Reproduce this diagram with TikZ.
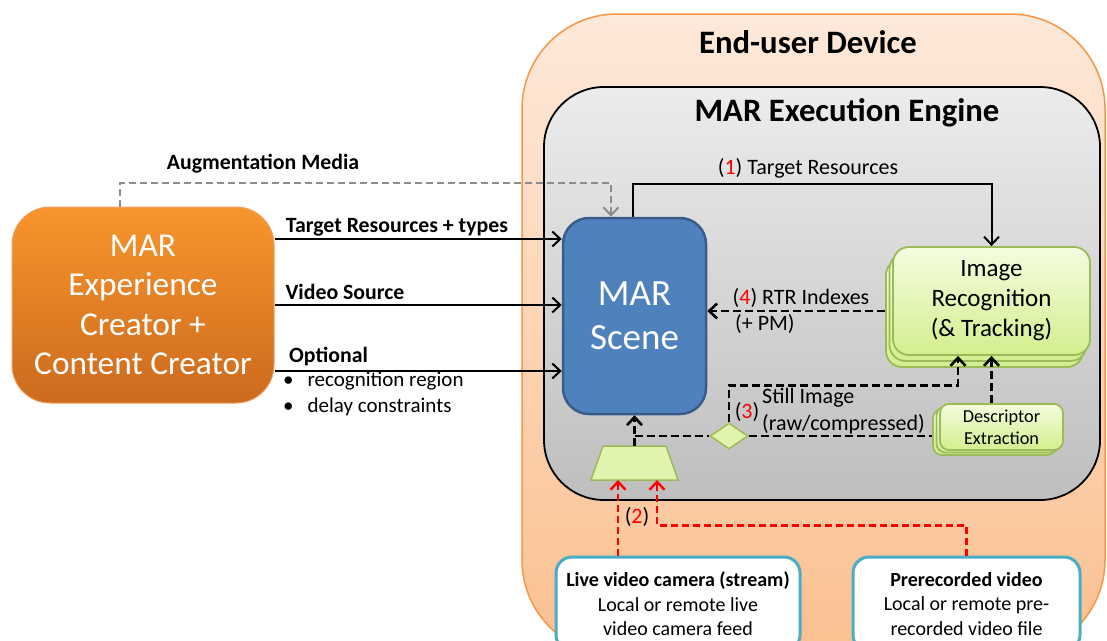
\documentclass[tikz,border=0pt]{standalone}
\usepackage{fontspec}
\setmainfont{Carlito}
\usetikzlibrary{arrows.meta,shapes.geometric,calc}
\definecolor{devborder}{HTML}{F79646}
\definecolor{devtop}{HTML}{FDE9DA}
\definecolor{devbot}{HTML}{FAC090}
\definecolor{engtop}{HTML}{ECECEC}
\definecolor{engbot}{HTML}{BEBEBE}
\definecolor{crtop}{HTML}{F8952C}
\definecolor{crbot}{HTML}{CC6A1E}
\definecolor{crborder}{HTML}{F0A060}
\definecolor{scfill}{HTML}{4F81BD}
\definecolor{scborder}{HTML}{385D8A}
\definecolor{grtop}{HTML}{F4FCDF}
\definecolor{grbot}{HTML}{D3EF8E}
\definecolor{grborder}{HTML}{9BBB59}
\definecolor{srcborder}{HTML}{4BACC6}
\definecolor{auggray}{HTML}{8C8C8C}
\newcommand\fsz[2]{\fontsize{#1}{#2}\selectfont}
\tikzset{
  lbl/.style={font=\fsz{22}{25}, inner sep=0pt},
  blbl/.style={font=\fsz{21.8}{25}\bfseries, inner sep=0pt},
  tip/.style={-{Straight Barb[length=8pt,width=15pt]}},
  arr/.style={line width=2pt, tip},
  dashln/.style={line width=2.6pt, dash pattern=on 8pt off 4pt},
  dasharr/.style={dashln, tip},
  redarr/.style={line width=2.4pt, dash pattern=on 7pt off 4pt, red, tip},
  augarr/.style={line width=2pt, dash pattern=on 7pt off 4pt, auggray, tip},
  creatorbox/.style={rounded corners=38pt, top color=crtop, bottom color=crbot, draw=crborder, line width=1pt,
    minimum width=262pt, minimum height=196pt, text=white, align=center, font=\fsz{33.4}{39.5}},
  scenebox/.style={rounded corners=26pt, fill=scfill, draw=scborder, line width=2.5pt,
    minimum width=143pt, minimum height=196pt, text=white, align=center, font=\fsz{37}{44}},
  irbox/.style={rounded corners=16pt, top color=grtop, bottom color=grbot, draw=grborder, line width=1.8pt,
    minimum width=197pt, minimum height=108pt, align=center, font=\fsz{25}{30}},
  debox/.style={rounded corners=9pt, top color=grtop, bottom color=grbot, draw=grborder, line width=1.8pt,
    minimum width=123pt, minimum height=46pt, align=center, font=\fsz{18.3}{22}},
  srcbox/.style={rounded corners=16pt, fill=white, draw=srcborder, line width=3pt,
    minimum width=#1, minimum height=94pt, align=center, font=\fsz{20}{24.5}},
  shapefill/.style={fill=grbot!60!grtop, draw=grborder, line width=1.5pt},
}
\begin{document}
\begin{tikzpicture}[x=1pt,y=-1pt]
\useasboundingbox (0,0) rectangle (1107,640);
\begin{scope}
\clip (0,0) rectangle (1107,640);
% device
\draw[devborder, line width=1.5pt, top color=devtop, bottom color=devbot, rounded corners=95pt]
  (522,14) rectangle (1105,655);
% engine
\draw[black, line width=1.8pt, top color=engtop, bottom color=engbot, rounded corners=60pt]
  (544,87) rectangle (1100,500);
\end{scope}
\node[font=\fsz{32.7}{38}\bfseries, inner sep=0pt] (devtitle) at (808,42) {End-user Device};
\node[font=\fsz{32.7}{38}\bfseries, inner sep=0pt] (engtitle) at (847,113) {MAR Execution Engine};

% creator
\node[creatorbox] (cr) at (143,305) {MAR\\Experience\\Creator +\\Content Creator};
% scene
\node[scenebox] (sc) at (634.5,316) {MAR\\Scene};
% image recognition stack
\node[irbox] (irb2) at (984.5,313) {};
\node[irbox] (irb1) at (988,307) {};
\node[irbox] (ir) at (991.5,301) {Image\\Recognition\\(\& Tracking)};
% descriptor stack
\node[debox] (deb2) at (994.5,432) {};
\node[debox] (deb1) at (998,429.5) {};
\node[debox] (de) at (1001.5,427) {Descriptor\\Extraction};
% diamond
\node[diamond, shapefill, minimum width=38pt, minimum height=26pt, inner sep=0pt] (dm) at (729,436) {};
% trapezoid (frame grabber)
\coordinate (tztop) at (634.5,446);
\coordinate (tzl) at (618,480);
\coordinate (tzr) at (657,480);
\draw[shapefill] (603,446) -- (666,446) -- (678,480) -- (591,480) -- cycle;

% sources
\node[srcbox=244pt] (lv) at (678,604) {\textbf{Live video camera (stream)}\\Local or remote live\\video camera feed};
\node[srcbox=227pt] (pr) at (966.5,604) {\textbf{Prerecorded video}\\Local or remote pre-\\recorded video file};

% augmentation media
\draw[augarr] ([xshift=-23pt]cr.north) |- ([xshift=-23.5pt,yshift=34pt]sc.north) -- ([xshift=-23.5pt]sc.north);
\node[blbl] (lblaug) at (263,164) {Augmentation Media};

% inputs from creator
\draw[arr] ([yshift=66pt]cr.east) -- ([yshift=66pt]cr.east -| sc.west);
\draw[arr] (cr.east) -- (cr.east -| sc.west);
\draw[arr] ([yshift=-66pt]cr.east) -- ([yshift=-66pt]cr.east -| sc.west);
\node[blbl] (lbltr) at (397,227) {Target Resources + types};
\node[blbl] (lblvs) at (345,292) {Video Source};
\node[blbl, anchor=west] (lblopt) at (289,357) {Optional};
\node[lbl, anchor=north west, align=left, font=\fsz{21}{26}] (lblbul) at (283,372) {\textbullet\hspace{14pt}recognition region\\\textbullet\hspace{14pt}delay constraints};

% (1) target resources
\draw[arr] ([xshift=-1.5pt]sc.north) -- ++(0,-33) -| (ir.north);
\node[lbl] (lbl1) at (808,168) {(\textcolor{red}{1}) Target Resources};

% (4) RTR indexes
\draw[dasharr] ([yshift=2pt]irb2.west) -- ([yshift=2pt]irb2.west -| sc.east);
\node[lbl] (lbl4) at (801,298) {(\textcolor{red}{4}) RTR Indexes};
\node[lbl, anchor=west] (lblpm) at (735,324) {(+ PM)};

% still image path
\draw[dasharr] (tztop) -- (sc.south);
\draw[dashln] (tztop |- dm.west) -- (dm.west);
\draw[dashln] (dm.east) -- (dm.east -| deb2.west);
\draw[dasharr] (dm.north) -- ++(0,-37) -| ([xshift=-33.5pt]ir.south);
\draw[dasharr] (ir.south |- de.north) -- (ir.south);
\node[lbl] (lbl3) at (747,412) {(\textcolor{red}{3})};
\node[lbl, anchor=west] (lblsi) at (762,398) {Still Image};
\node[lbl, anchor=west] (lblraw) at (762,424) {(raw/compressed)};

% (2) video sources
\draw[redarr] (tzl |- lv.north) -- (tzl);
\draw[redarr] (pr.north) -- ++(0,-30) -| (tzr);
\node[lbl] (lbl2) at (637,517) {(\textcolor{red}{2})};
\end{tikzpicture}
\end{document}
